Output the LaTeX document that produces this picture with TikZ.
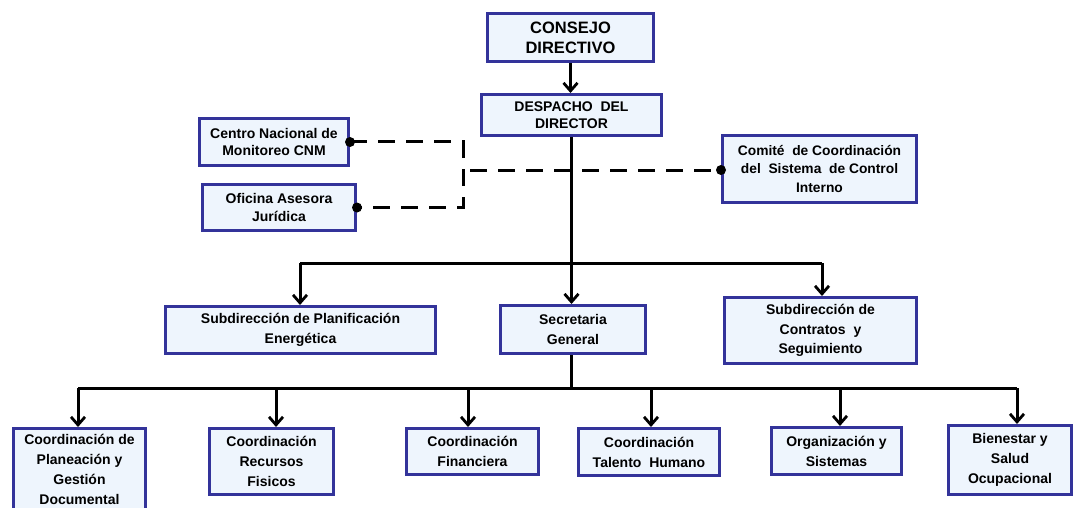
\documentclass[tikz,border=0pt]{standalone}
\usepackage{fontspec}
\setmainfont{Liberation Sans}
\usetikzlibrary{arrows.meta}
\definecolor{boxfill}{HTML}{EEF5FD}
\definecolor{boxdraw}{HTML}{33339A}
\begin{document}
\begin{tikzpicture}[x=1pt,y=-1pt,
  box/.style={draw=boxdraw, fill=boxfill, line width=3pt, align=center, inner sep=0pt},
  topf/.style={font=\fontsize{14}{17.5}\selectfont\bfseries},
  midf/.style={font=\fontsize{14}{19.5}\selectfont\bfseries},
  botf/.style={font=\fontsize{14}{20}\selectfont\bfseries},
  conn/.style={line width=3pt, -{Straight Barb[length=8pt,width=14pt,line width=2.8pt]}},
  plainline/.style={line width=3pt},
  dashline/.style={line width=3pt, dash pattern=on 17pt off 11pt},
  dotc/.style={circle, fill=black, inner sep=0pt, minimum size=10pt}
]
\useasboundingbox (0,0) rectangle (1076,508);
\begin{scope}
\clip (0,0) rectangle (1076,508);
% top
\node[box, minimum width=166pt, minimum height=48pt, font=\fontsize{16.5}{20}\selectfont\bfseries] (consejo) at (570.5,37.5) {CONSEJO\\DIRECTIVO};
\node[box, minimum width=180pt, minimum height=41pt, font=\fontsize{14}{17}\selectfont\bfseries] (despacho) at (571.5,115) {DESPACHO\ \ DEL\\DIRECTOR};
\node[box, topf, minimum width=149pt, minimum height=47pt] (centro) at (274,142) {Centro Nacional de\\Monitoreo CNM};
\node[box, topf, minimum width=153pt, minimum height=46pt] (oficina) at (279,207.5) {Oficina Asesora\\Jurídica};
\node[box, topf, minimum width=194pt, minimum height=67pt, font=\fontsize{13.8}{18.5}\selectfont\bfseries] (comite) at (819.5,169) {Comité\ \ de Coordinación\\del\ \ Sistema\ \ de Control\\Interno};
% middle
\node[box, midf, minimum width=270pt, minimum height=47pt] (planif) at (300.5,330) {Subdirección de Planificación\\Energética};
\node[box, midf, minimum width=145pt, minimum height=48pt] (secret) at (573,329.5) {Secretaria\\General};
\node[box, midf, minimum width=192pt, minimum height=66pt] (contratos) at (820.5,330.5) {Subdirección de\\Contratos\ \ y\\Seguimiento};
% bottom
\node[box, botf, minimum width=132pt, minimum height=82pt] (b1) at (79.5,469.5) {Coordinación de\\Planeación y\\Gestión\\Documental};
\node[box, botf, minimum width=124pt, minimum height=66pt] (b2) at (271.5,461.5) {Coordinación\\Recursos\\Fisicos};
\node[box, botf, minimum width=132pt, minimum height=46pt] (b3) at (472.5,451.5) {Coordinación\\Financiera};
\node[box, botf, minimum width=141pt, minimum height=47pt] (b4) at (649,452) {Coordinación\\Talento\ \ Humano};
\node[box, botf, minimum width=130pt, minimum height=47pt] (b5) at (836.5,451) {Organización y\\Sistemas};
\node[box, botf, minimum width=123pt, minimum height=69pt] (b6) at (1010,460) {Bienestar y\\Salud\\Ocupacional};
\end{scope}
% connectors
\draw[conn] (consejo.south) -- (consejo.south |- despacho.north);
\coordinate (m0) at (571.5,263);
\coordinate (mL) at (300,263);
\coordinate (mR) at (822,263);
\draw[plainline] (despacho.south) -- (m0);
\draw[plainline] (mL) -- (mR);
\draw[conn] (mL) -- (mL |- planif.north);
\draw[conn] (m0) -- (m0 |- secret.north);
\draw[conn] (mR) -- (mR |- contratos.north);
\coordinate (s0) at (571.5,388);
\draw[plainline] (secret.south -| s0) -- (s0);
\coordinate (j1) at (78,388);
\coordinate (j2) at (276,388);
\coordinate (j3) at (468,388);
\coordinate (j4) at (651,388);
\coordinate (j5) at (840,388);
\coordinate (j6) at (1017,388);
\draw[plainline] (j1) -- (j6);
\draw[conn] (j1) -- (j1 |- b1.north);
\draw[conn] (j2) -- (j2 |- b2.north);
\draw[conn] (j3) -- (j3 |- b3.north);
\draw[conn] (j4) -- (j4 |- b4.north);
\draw[conn] (j5) -- (j5 |- b5.north);
\draw[conn] (j6) -- (j6 |- b6.north);
% dashed staff links
\coordinate (d1) at (463,142);
\coordinate (d2) at (463,207.5);
\coordinate (d3) at (470,170);
\draw[dashline] (centro.east) -- (d1) -- (d2) -- (oficina.east);
\draw[dashline] (d3) -- (comite.west |- d3);
\node[dotc] (dotA) at (centro.east) {};
\node[dotc] (dotB) at (oficina.east) {};
\node[dotc] (dotC) at (comite.west |- d3) {};
\end{tikzpicture}
\end{document}
